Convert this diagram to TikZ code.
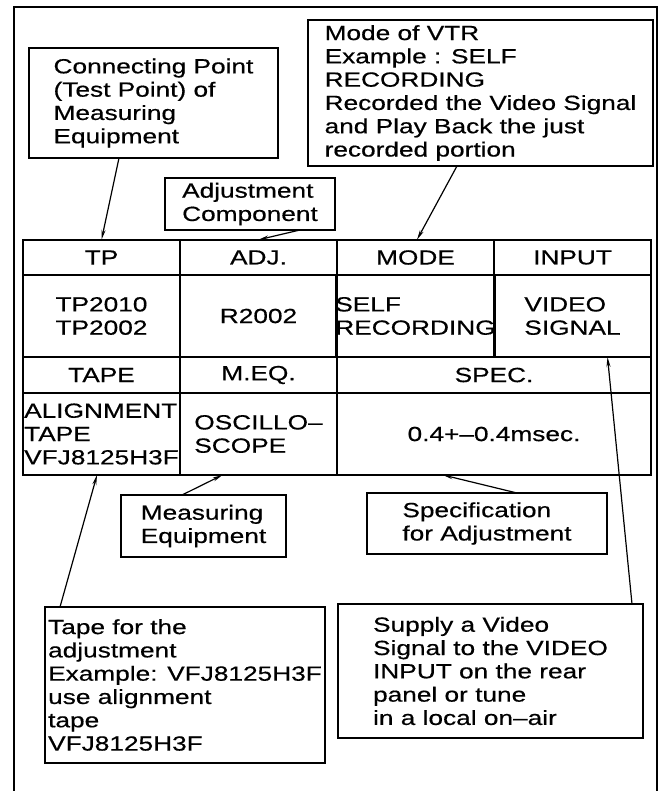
\documentclass[tikz,border=0pt]{standalone}
\usepackage{fontspec}
\setmainfont{Liberation Sans}[FakeStretch=1.28,FakeBold=0.5]
\usetikzlibrary{arrows.meta}
\begin{document}
\begin{tikzpicture}[x=1pt,y=-1pt,
  txt/.style={font=\fontsize{20.5}{23.3}\selectfont},
  box/.style={draw, line width=1.6pt, inner sep=0pt, outer sep=0pt, align=left, txt},
  cell/.style={draw, line width=1.6pt, inner sep=0pt, outer sep=0pt, align=left, txt, minimum width=157pt},
  hdr/.style={cell, minimum height=35.5pt},
  val/.style={cell, minimum height=82pt},
  arr/.style={line width=1.2pt, -{Stealth[length=10pt,width=4pt]}}]
\useasboundingbox (0,0) rectangle (663,791);
% outer frame
\draw[line width=1.8pt] (14,791) -- (14,7) -- (657,7) -- (657,791);
% callout boxes (top)
\node[box, minimum width=249pt, minimum height=110pt] (conn) at (153.5,103)
  {Connecting Point\\(Test Point) of\\Measuring\\Equipment};
\node[box, minimum width=345pt, minimum height=146pt] (mode) at (480.5,93)
  {Mode of VTR\\Example : SELF\\RECORDING\\Recorded the Video Signal\\and Play Back the just\\recorded portion};
\node[box, minimum width=170pt, minimum height=52pt] (adj) at (250,204)
  {Adjustment\\Component};
% table
\node[hdr] (tph) at (101.5,257.5) {TP};
\node[hdr] (adjh) at (258.5,257.5) {ADJ.};
\node[hdr] (modeh) at (415.5,257.5) {MODE};
\node[hdr] (inputh) at (572.5,257.5) {INPUT};
\node[val] (tpv) at (101.5,316) {TP2010\\TP2002};
\node[val] (adjv) at (258.5,316) {R2002};
\node[val] (modev) at (415.5,316) {SELF\\RECORDING};
\node[val] (inputv) at (572.5,316) {VIDEO\\SIGNAL};
\node[hdr] (tapeh) at (101.5,375) {TAPE};
\node[hdr] (meqh) at (258.5,375) {M.EQ.};
\node[hdr, minimum width=314pt] (spech) at (494,375) {SPEC.};
\node[val] (tapev) at (101.5,434) {ALIGNMENT\\TAPE\\VFJ8125H3F};
\node[val] (meqv) at (258.5,434) {OSCILLO--\\SCOPE};
\node[val, minimum width=314pt] (specv) at (494,434) {0.4+--0.4msec.};
% callout boxes (bottom)
\node[box, minimum width=165pt, minimum height=62pt] (meas) at (203.5,526)
  {Measuring\\Equipment};
\node[box, minimum width=240pt, minimum height=61pt] (specbox) at (487,523.5)
  {Specification\\for Adjustment};
\node[box, minimum width=280pt, minimum height=156pt] (tapebox) at (185,685)
  {Tape for the\\adjustment\\Example: VFJ8125H3F\\use alignment\\tape\\VFJ8125H3F};
\node[box, minimum width=305pt, minimum height=134pt] (supply) at (490.5,671)
  {Supply a Video\\Signal to the VIDEO\\INPUT on the rear\\panel or tune\\in a local on--air};
% connectors
\draw[arr] ([xshift=-34.5pt]conn.south) -- (tph.north);
\draw[arr] ([xshift=50pt]adj.south) -- (adjh.north);
\draw[arr] ([xshift=-23.5pt]mode.south) -- ([xshift=1.5pt]modeh.north);
\draw[arr] ([xshift=-125pt]tapebox.north) -- ([xshift=-4.5pt]tapev.south);
\draw[arr] ([xshift=-21.5pt]meas.north) -- ([xshift=-36pt]meqv.south);
\draw[arr] ([xshift=30pt]specbox.north) -- ([xshift=-51pt]specv.south);
\draw[arr] ([xshift=141.5pt]supply.north) -- ([xshift=35pt]inputv.south);
\end{tikzpicture}
\end{document}
